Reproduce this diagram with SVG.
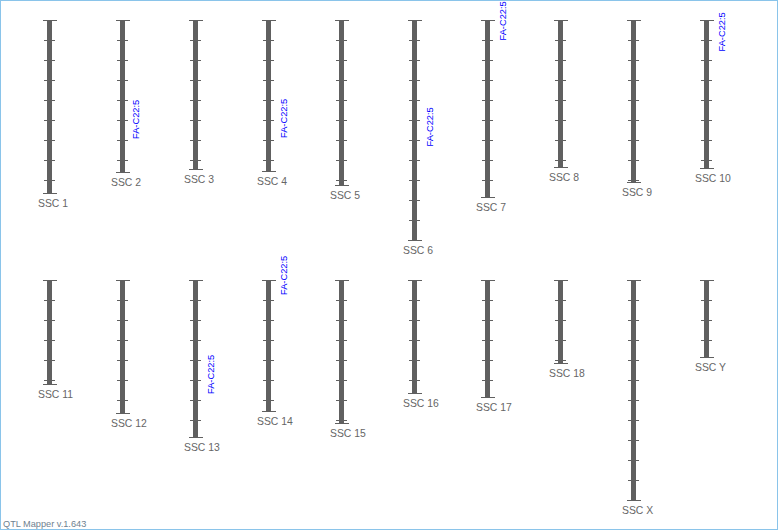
<svg xmlns="http://www.w3.org/2000/svg" width="778" height="530" viewBox="0 0 778 530">
<style>
.bar{fill:#606060}
.tk{stroke:#606060;stroke-width:1;fill:none}
.lbl{font-family:"Liberation Sans",Arial,sans-serif;font-size:10.4px;fill:#666}
.qtl{font-family:"Liberation Sans",Arial,sans-serif;font-size:9.3px;fill:#0000ff}
.foot{font-family:"Liberation Sans",Arial,sans-serif;font-size:9.2px;fill:#6f7f8f}
</style>
<rect x="0.5" y="0.5" width="777" height="529" fill="#fff" stroke="#8ac4ea"/>
<g id="SSC1"><rect class="bar" x="47" y="20" width="5" height="174"/><path class="tk" d="M43 20.5h14M43 193.5h14M44 40.5h11m-11 20h11m-11 20h11m-11 20h11m-11 20h11m-11 20h11m-11 20h11m-11 20h11"/><text class="lbl" x="38" y="206.5">SSC 1</text></g>
<g id="SSC2"><rect class="bar" x="120" y="20" width="5" height="153"/><path class="tk" d="M116 20.5h14M116 172.5h14M117 40.5h11m-11 20h11m-11 20h11m-11 20h11m-11 20h11m-11 20h11m-11 20h11"/><text class="lbl" x="111" y="185.5">SSC 2</text><text class="qtl" transform="translate(139,139) rotate(-90)">FA-C22:5</text></g>
<g id="SSC3"><rect class="bar" x="193" y="20" width="5" height="150"/><path class="tk" d="M189 20.5h14M189 169.5h14M190 40.5h11m-11 20h11m-11 20h11m-11 20h11m-11 20h11m-11 20h11m-11 20h11"/><text class="lbl" x="184" y="182.5">SSC 3</text></g>
<g id="SSC4"><rect class="bar" x="266" y="20" width="5" height="152"/><path class="tk" d="M262 20.5h14M262 171.5h14M263 40.5h11m-11 20h11m-11 20h11m-11 20h11m-11 20h11m-11 20h11m-11 20h11"/><text class="lbl" x="257" y="184.5">SSC 4</text><text class="qtl" transform="translate(286.5,138) rotate(-90)">FA-C22:5</text></g>
<g id="SSC5"><rect class="bar" x="339" y="20" width="5" height="166"/><path class="tk" d="M335 20.5h14M335 185.5h14M336 40.5h11m-11 20h11m-11 20h11m-11 20h11m-11 20h11m-11 20h11m-11 20h11m-11 20h11"/><text class="lbl" x="330" y="198.5">SSC 5</text></g>
<g id="SSC6"><rect class="bar" x="412" y="20" width="5" height="221"/><path class="tk" d="M408 20.5h14M408 240.5h14M409 40.5h11m-11 20h11m-11 20h11m-11 20h11m-11 20h11m-11 20h11m-11 20h11m-11 20h11m-11 20h11m-11 20h11"/><text class="lbl" x="403" y="253.5">SSC 6</text><text class="qtl" transform="translate(432.5,146.5) rotate(-90)">FA-C22:5</text></g>
<g id="SSC7"><rect class="bar" x="485" y="20" width="5" height="178"/><path class="tk" d="M481 20.5h14M481 197.5h14M482 40.5h11m-11 20h11m-11 20h11m-11 20h11m-11 20h11m-11 20h11m-11 20h11m-11 20h11"/><text class="lbl" x="476" y="210.5">SSC 7</text><text class="qtl" transform="translate(506,40.5) rotate(-90)">FA-C22:5</text></g>
<g id="SSC8"><rect class="bar" x="558" y="20" width="5" height="148"/><path class="tk" d="M554 20.5h14M554 167.5h14M555 40.5h11m-11 20h11m-11 20h11m-11 20h11m-11 20h11m-11 20h11m-11 20h11"/><text class="lbl" x="549" y="180.5">SSC 8</text></g>
<g id="SSC9"><rect class="bar" x="631" y="20" width="5" height="163"/><path class="tk" d="M627 20.5h14M627 182.5h14M628 40.5h11m-11 20h11m-11 20h11m-11 20h11m-11 20h11m-11 20h11m-11 20h11m-11 20h11"/><text class="lbl" x="622" y="195.5">SSC 9</text></g>
<g id="SSC10"><rect class="bar" x="704" y="20" width="5" height="149"/><path class="tk" d="M700 20.5h14M700 168.5h14M701 40.5h11m-11 20h11m-11 20h11m-11 20h11m-11 20h11m-11 20h11m-11 20h11"/><text class="lbl" x="695" y="181.5">SSC 10</text><text class="qtl" transform="translate(724.5,51.5) rotate(-90)">FA-C22:5</text></g>
<g id="SSC11"><rect class="bar" x="47" y="280" width="5" height="105"/><path class="tk" d="M43 280.5h14M43 384.5h14M44 300.5h11m-11 20h11m-11 20h11m-11 20h11m-11 20h11"/><text class="lbl" x="38" y="397.5">SSC 11</text></g>
<g id="SSC12"><rect class="bar" x="120" y="280" width="5" height="134"/><path class="tk" d="M116 280.5h14M116 413.5h14M117 300.5h11m-11 20h11m-11 20h11m-11 20h11m-11 20h11m-11 20h11"/><text class="lbl" x="111" y="426.5">SSC 12</text></g>
<g id="SSC13"><rect class="bar" x="193" y="280" width="5" height="158"/><path class="tk" d="M189 280.5h14M189 437.5h14M190 300.5h11m-11 20h11m-11 20h11m-11 20h11m-11 20h11m-11 20h11m-11 20h11"/><text class="lbl" x="184" y="450.5">SSC 13</text><text class="qtl" transform="translate(213.5,394) rotate(-90)">FA-C22:5</text></g>
<g id="SSC14"><rect class="bar" x="266" y="280" width="5" height="132"/><path class="tk" d="M262 280.5h14M262 411.5h14M263 300.5h11m-11 20h11m-11 20h11m-11 20h11m-11 20h11m-11 20h11"/><text class="lbl" x="257" y="424.5">SSC 14</text><text class="qtl" transform="translate(286.5,295) rotate(-90)">FA-C22:5</text></g>
<g id="SSC15"><rect class="bar" x="339" y="280" width="5" height="144"/><path class="tk" d="M335 280.5h14M335 423.5h14M336 300.5h11m-11 20h11m-11 20h11m-11 20h11m-11 20h11m-11 20h11m-11 20h11"/><text class="lbl" x="330" y="436.5">SSC 15</text></g>
<g id="SSC16"><rect class="bar" x="412" y="280" width="5" height="114"/><path class="tk" d="M408 280.5h14M408 393.5h14M409 300.5h11m-11 20h11m-11 20h11m-11 20h11m-11 20h11"/><text class="lbl" x="403" y="406.5">SSC 16</text></g>
<g id="SSC17"><rect class="bar" x="485" y="280" width="5" height="118"/><path class="tk" d="M481 280.5h14M481 397.5h14M482 300.5h11m-11 20h11m-11 20h11m-11 20h11m-11 20h11"/><text class="lbl" x="476" y="410.5">SSC 17</text></g>
<g id="SSC18"><rect class="bar" x="558" y="280" width="5" height="84"/><path class="tk" d="M554 280.5h14M554 363.5h14M555 300.5h11m-11 20h11m-11 20h11m-11 20h11"/><text class="lbl" x="549" y="376.5">SSC 18</text></g>
<g id="SSCX"><rect class="bar" x="631" y="280" width="5" height="221"/><path class="tk" d="M627 280.5h14M627 500.5h14M628 300.5h11m-11 20h11m-11 20h11m-11 20h11m-11 20h11m-11 20h11m-11 20h11m-11 20h11m-11 20h11m-11 20h11"/><text class="lbl" x="622" y="513.5">SSC X</text></g>
<g id="SSCY"><rect class="bar" x="704" y="280" width="5" height="78"/><path class="tk" d="M700 280.5h14M700 357.5h14M701 300.5h11m-11 20h11m-11 20h11"/><text class="lbl" x="695" y="370.5">SSC Y</text></g>
<g id="connectors"/>
<text class="foot" x="3" y="527">QTL Mapper v.1.643</text>
</svg>
